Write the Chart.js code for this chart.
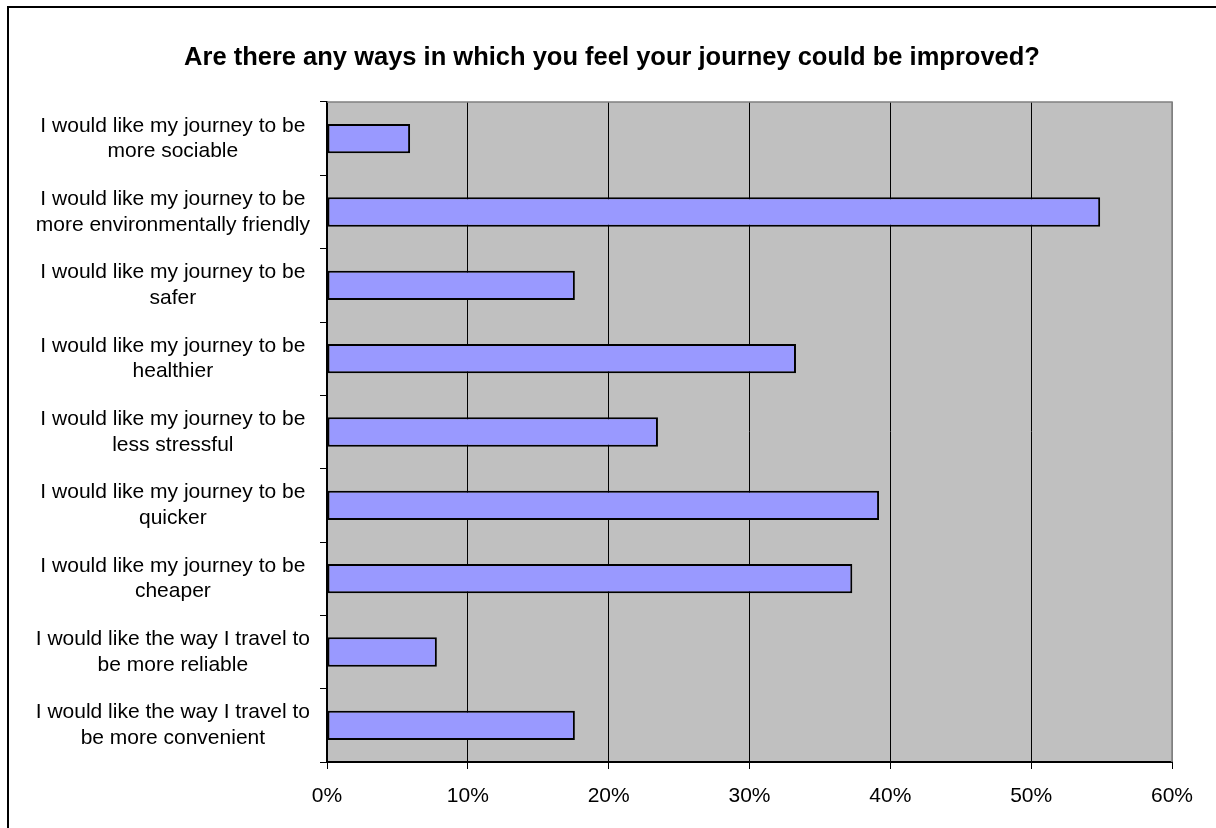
<!DOCTYPE html>
<html>
<head>
<meta charset="utf-8">
<script src="https://cdn.jsdelivr.net/npm/chart.js@4/dist/chart.umd.min.js"></script>
<style>
  html, body { margin: 0; padding: 0; background: #ffffff; }
  #wrap { width: 1216px; height: 828px; }
</style>
</head>
<body>
<div id="wrap"><canvas id="c" width="1216" height="828"></canvas></div>
<script>
// Survey question and answers
const chartTitle = 'Are there any ways in which you feel your journey could be improved?';

const categories = [
  ['I would like my journey to be', 'more sociable'],
  ['I would like my journey to be', 'more environmentally friendly'],
  ['I would like my journey to be', 'safer'],
  ['I would like my journey to be', 'healthier'],
  ['I would like my journey to be', 'less stressful'],
  ['I would like my journey to be', 'quicker'],
  ['I would like my journey to be', 'cheaper'],
  ['I would like the way I travel to', 'be more reliable'],
  ['I would like the way I travel to', 'be more convenient']
];

// Share of respondents (%)
const shares = [5.9, 54.9, 17.6, 33.3, 23.5, 39.2, 37.3, 7.8, 17.6];

// Percentage axis range
const axisMin = 0;
const axisMax = 60;
const axisStep = 10;

const FONT = '"Liberation Sans", Arial, Helvetica, sans-serif';

// Page background, outer frame, grey plot area and title
const chartDecor = {
  id: 'chartDecor',
  beforeDraw(chart) {
    const { ctx, chartArea: a } = chart;
    ctx.save();
    ctx.fillStyle = '#ffffff';
    ctx.fillRect(0, 0, chart.width, chart.height);
    ctx.strokeStyle = '#000000';
    ctx.lineWidth = 2;
    ctx.strokeRect(8, 7, chart.width + 40, chart.height + 40);
    ctx.fillStyle = '#C0C0C0';
    ctx.fillRect(a.left, a.top, a.right - a.left, a.bottom - a.top);
    ctx.restore();
  },
  beforeDatasetsDraw(chart) {
    const { ctx, chartArea: a } = chart;
    ctx.save();
    ctx.strokeStyle = '#808080';
    ctx.lineWidth = 1.5;
    ctx.beginPath();
    ctx.moveTo(a.left, a.top);
    ctx.lineTo(a.right, a.top);
    ctx.lineTo(a.right, a.bottom);
    ctx.stroke();
    ctx.restore();
  },
  afterDraw(chart) {
    const ctx = chart.ctx;
    ctx.save();
    ctx.font = 'bold 25.5px ' + FONT;
    ctx.fillStyle = '#000000';
    ctx.textAlign = 'center';
    ctx.textBaseline = 'middle';
    ctx.fillText(chartTitle, 612, 58);
    ctx.restore();
  }
};

new Chart(document.getElementById('c'), {
  type: 'bar',
  data: {
    labels: categories,
    datasets: [{
      data: shares,
      backgroundColor: '#9999FF',
      borderColor: '#000000',
      borderWidth: 2,
      borderSkipped: false,
      barPercentage: 0.4,
      categoryPercentage: 1.0
    }]
  },
  options: {
    indexAxis: 'y',
    responsive: false,
    animation: false,
    devicePixelRatio: 1,
    layout: { padding: { top: 102, right: 44, bottom: 0, left: 0 } },
    plugins: {
      legend: { display: false },
      title: { display: false },
      tooltip: { enabled: false }
    },
    scales: {
      x: {
        min: axisMin,
        max: axisMax,
        ticks: {
          stepSize: axisStep,
          color: '#000000',
          font: { family: FONT, size: 21 },
          padding: 15,
          callback: v => v + '%'
        },
        grid: {
          color: c => (c.tick && c.tick.value === axisMax) ? '#808080' : '#000000',
          lineWidth: 1,
          tickLength: 7,
          tickColor: '#000000'
        },
        border: { display: true, color: '#000000', width: 2 },
        afterFit(scale) { scale.height = 66; }
      },
      y: {
        ticks: {
          color: '#000000',
          font: { family: FONT, size: 21, lineHeight: 1.22 },
          crossAlign: 'center',
          padding: 10,
          autoSkip: false
        },
        grid: {
          drawOnChartArea: false,
          drawTicks: true,
          tickLength: 7,
          color: '#000000'
        },
        border: { display: true, color: '#000000', width: 2 },
        afterFit(scale) { scale.width = 327; }
      }
    }
  },
  plugins: [chartDecor]
});
</script>
</body>
</html>
